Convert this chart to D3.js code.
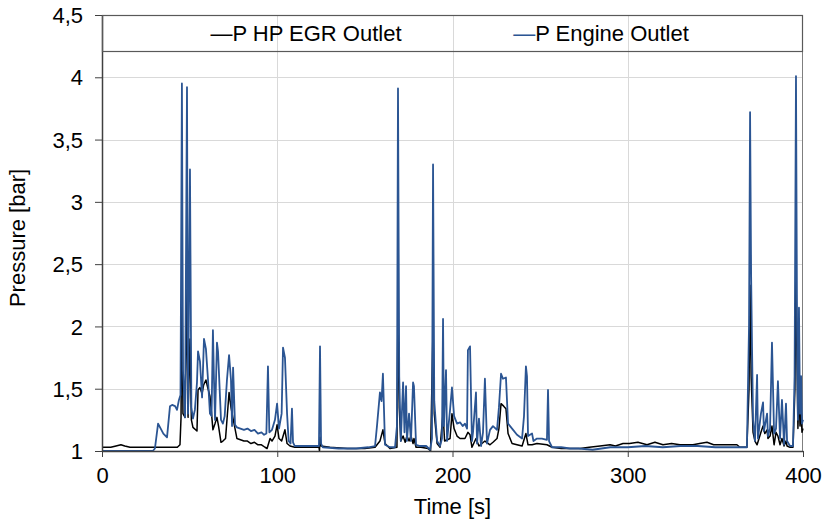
<!DOCTYPE html>
<html>
<head>
<meta charset="utf-8">
<script src="https://cdn.jsdelivr.net/npm/d3@7"></script>
<style>
  body { margin: 0; background: #fff; }
  svg { font-family: "Liberation Sans", Arial, sans-serif; }
</style>
</head>
<body>
<svg width="823" height="522"></svg>
<script>
let width = 823,
    height = 522;

let margin = {top: 15, right: 20, bottom: 71, left: 102};

// axis ticks
let xTicks = [0, 100, 200, 300, 400];
let yTicks = [1, 1.5, 2, 2.5, 3, 3.5, 4, 4.5];

let seriesNames = ["P HP EGR Outlet", "P Engine Outlet"];
let seriesColors = ["#000000", "#2b5593"];

// [time s, pressure bar]
let hpEgrOutlet = [
    [0, 1.03], [5, 1.03], [8, 1.04], [10.8, 1.05], [13, 1.04], [16, 1.03], [22, 1.03], [28, 1.03],
    [32, 1.03], [38, 1.03], [43, 1.03], [44.5, 1.05], [45.1, 1.27], [45.6, 2.45], [46.2, 1.30],
    [47.4, 1.27], [48.5, 2.30], [49.1, 1.27], [50.2, 1.90], [51, 1.25], [51.9, 1.19], [54.2, 1.16],
    [54.8, 1.49], [55.9, 1.51], [57.1, 1.46], [58, 1.53], [59.3, 1.57], [60.5, 1.50], [61.6, 1.44],
    [62.5, 1.30], [63.3, 1.17], [64.5, 1.22], [65.6, 1.27], [66.5, 1.20], [67.9, 1.07], [69, 1.08],
    [70.5, 1.10], [72.5, 1.47], [73.6, 1.35], [74.8, 1.26], [75.9, 1.18], [77, 1.10], [79, 1.09],
    [81, 1.08], [83, 1.08], [85, 1.06], [87, 1.07], [89, 1.05], [91, 1.05], [93, 1.03], [94.2, 1.02],
    [95.9, 1.10], [97, 1.08], [98.7, 1.12], [99.9, 1.21], [101, 1.10], [102.5, 1.08], [104.4, 1.17],
    [105.6, 1.06], [107.3, 1.04], [110, 1.03], [115, 1.03], [120, 1.03], [123.8, 1.03], [124.1, 1.00],
    [124.4, 1.11], [125, 1.04], [130, 1.03], [140, 1.02], [150, 1.02], [155.8, 1.03], [158.6, 1.08],
    [160.3, 1.17], [161.5, 1.06], [164.3, 1.02], [168.3, 1.03], [168.9, 2.20], [169.6, 1.35],
    [170.5, 1.08], [171.8, 1.12], [173, 1.07], [174, 1.12], [175.2, 1.08], [176.3, 1.12], [177.5, 1.06],
    [178, 1.10], [179.2, 1.03], [182, 1.03], [186, 1.02], [187.5, 1.00], [188.9, 2.00], [189.6, 1.30],
    [191.2, 1.06], [192.9, 1.03], [194.6, 1.30], [195.5, 1.08], [198.6, 1.10], [199.7, 1.30],
    [200.9, 1.18], [202.6, 1.12], [204.3, 1.10], [207.1, 1.10], [208.8, 1.15], [210, 1.13], [211.1, 1.03],
    [213.4, 1.10], [215.1, 1.04], [218.5, 1.08], [221.4, 1.05], [223.1, 1.07], [225.4, 1.10],
    [226.5, 1.18], [227.7, 1.38], [229.2, 1.36], [230.5, 1.34], [231.7, 1.14], [234, 1.06], [236.8, 1.05],
    [239.7, 1.04], [241.9, 1.14], [243.1, 1.05], [245.4, 1.05], [248.2, 1.06], [253.9, 1.05],
    [256.8, 1.03], [262, 1.02], [267, 1.02], [272.8, 1.02], [278, 1.03], [284.2, 1.04], [289.9, 1.05],
    [293, 1.04], [297.3, 1.06], [301, 1.06], [305.8, 1.07], [311, 1.05], [315.5, 1.07], [320.1, 1.05],
    [325, 1.06], [329.8, 1.05], [337.2, 1.05], [341, 1.06], [345.2, 1.07], [349, 1.05], [352.6, 1.05],
    [357, 1.05], [362.3, 1.05], [364, 1.03], [368, 1.03], [369.2, 1.50], [369.8, 2.33], [370.4, 1.60],
    [371.5, 1.15], [372.6, 1.08], [373.8, 1.05], [376, 1.15], [377.2, 1.20], [378.2, 1.14], [379.5, 1.17],
    [380, 1.10], [381.2, 1.12], [382.3, 1.20], [383.5, 1.05], [384.6, 1.15], [385.7, 1.12], [386.9, 1.05],
    [388, 1.10], [389.2, 1.04], [390.3, 1.08], [390.9, 1.04], [392.6, 1.03], [394.3, 1.03], [395.4, 1.50],
    [396, 2.45], [396.6, 1.70], [397.1, 1.18], [397.7, 1.50], [398.3, 1.20], [398.9, 1.35], [399.4, 1.15],
    [400, 1.18]
];

let engineOutlet = [
    [0, 1.00], [29, 1.00], [30.2, 1.02], [32, 1.22], [33.5, 1.18], [35, 1.14], [37.1, 1.11], [38.8, 1.36],
    [40, 1.37], [41.7, 1.36], [42.8, 1.33], [43.9, 1.41], [44.8, 1.45], [45.6, 3.95], [46.2, 1.65],
    [47.4, 1.27], [48.5, 3.92], [49.1, 1.30], [50.2, 3.26], [51, 1.35], [51.9, 1.26], [53, 1.33],
    [54.2, 1.55], [54.8, 1.80], [55.9, 1.72], [57.1, 1.43], [58.2, 1.90], [59.3, 1.82], [60.5, 1.57],
    [61.6, 1.30], [62.5, 1.28], [63.3, 1.97], [63.9, 1.57], [64.5, 1.25], [65.6, 1.87], [66.2, 1.80],
    [67.9, 1.25], [69, 1.22], [70, 1.28], [71.3, 1.57], [72.5, 1.77], [73.6, 1.57], [74.2, 1.20],
    [74.8, 1.67], [75.9, 1.21], [77, 1.19], [79, 1.18], [81, 1.17], [83, 1.18], [85, 1.16], [87, 1.17],
    [89, 1.14], [91, 1.15], [92.5, 1.13], [93.8, 1.14], [94.7, 1.68], [95.5, 1.15], [97, 1.17],
    [98.7, 1.25], [99.9, 1.38], [101, 1.18], [102.5, 1.30], [103.3, 1.83], [104.4, 1.75], [105.6, 1.30],
    [106.5, 1.08], [107.6, 1.06], [108.4, 1.34], [109, 1.07], [110, 1.04], [115, 1.04], [120, 1.04],
    [123.8, 1.04], [124.4, 1.84], [125, 1.06], [126, 1.03], [135, 1.02], [145, 1.02], [152, 1.03],
    [155.8, 1.04], [156.9, 1.20], [158.6, 1.47], [159.5, 1.40], [160.3, 1.62], [161.5, 1.05],
    [164.3, 1.03], [167.2, 1.03], [168.3, 1.20], [168.9, 3.91], [169.6, 1.60], [170.5, 1.08],
    [171.8, 1.55], [172.6, 1.15], [173.5, 1.52], [174, 1.08], [175.2, 1.30], [176.3, 1.08], [177.5, 1.55],
    [178, 1.52], [179.2, 1.05], [181.5, 1.04], [185, 1.04], [187.2, 1.01], [188.3, 1.10], [188.9, 3.30],
    [189.6, 1.40], [191.2, 1.08], [192.9, 1.04], [194, 1.10], [194.6, 2.06], [195.1, 1.20], [196.3, 1.65],
    [196.9, 1.08], [198.6, 1.33], [199.7, 1.51], [200.9, 1.28], [202.6, 1.22], [204.3, 1.23],
    [205.8, 1.20], [207.1, 1.22], [208.3, 1.18], [208.8, 1.81], [210, 1.84], [211.1, 1.08], [211.7, 1.15],
    [213.4, 1.47], [214, 1.06], [215.1, 1.26], [216.3, 1.04], [217.4, 1.15], [218.5, 1.58], [219.7, 1.06],
    [221.4, 1.17], [223.1, 1.20], [225.4, 1.17], [226.5, 1.35], [227.7, 1.62], [228.8, 1.58],
    [230.5, 1.59], [231.7, 1.22], [234, 1.18], [236.8, 1.13], [239.7, 1.10], [240.8, 1.28], [241.9, 1.68],
    [242.5, 1.60], [243.1, 1.12], [245.4, 1.14], [246.2, 1.08], [248.2, 1.10], [251, 1.10], [253.9, 1.09],
    [254.5, 1.49], [255.1, 1.08], [256.8, 1.03], [262, 1.03], [267, 1.02], [272, 1.02], [280, 1.01],
    [285, 1.02], [290, 1.03], [300, 1.03], [310, 1.04], [320, 1.03], [330, 1.04], [340, 1.04], [350, 1.03],
    [358, 1.03], [362, 1.03], [366, 1.03], [368, 1.03], [369.2, 2.00], [369.8, 3.72], [370.4, 2.40],
    [370.9, 1.84], [371.5, 1.25], [372.6, 1.08], [373.8, 1.61], [374.3, 1.10], [376, 1.30], [377.2, 1.39],
    [377.7, 1.16], [379.5, 1.30], [380, 1.12], [381.2, 1.18], [382.3, 1.87], [383.5, 1.14], [384.6, 1.18],
    [385.7, 1.56], [386.9, 1.10], [388, 1.41], [389.2, 1.05], [390.3, 1.38], [390.9, 1.08], [392.6, 1.04],
    [394.3, 1.04], [395.2, 1.60], [396, 4.01], [396.6, 2.00], [397.1, 1.25], [397.7, 2.15], [398.3, 1.30],
    [398.9, 1.60], [399.4, 1.22], [400, 1.25]
];

let svg = d3.select("svg");

let x = d3.scaleLinear()
    .domain([0, 400])
    .range([margin.left, width - margin.right]);

let y = d3.scaleLinear()
    .domain([1, 4.5])
    .range([height - margin.bottom, margin.top]);

let comma = d => String(d).replace(".", ",");

// grid
let grid = svg.append("g").attr("stroke", "#d9d9d9").attr("stroke-width", 1);

grid.selectAll(".h")
    .data(yTicks.slice(1))
    .enter().append("line")
    .attr("x1", x(0)).attr("x2", x(400))
    .attr("y1", d => Math.round(y(d)) + 0.5)
    .attr("y2", d => Math.round(y(d)) + 0.5);

grid.selectAll(".v")
    .data(xTicks.slice(1, -1))
    .enter().append("line")
    .attr("y1", y(1)).attr("y2", y(4.5))
    .attr("x1", d => Math.round(x(d)) + 0.5)
    .attr("x2", d => Math.round(x(d)) + 0.5);

// right border
svg.append("line")
    .attr("x1", x(400) - 0.5).attr("x2", x(400) - 0.5)
    .attr("y1", y(4.5)).attr("y2", y(1))
    .attr("stroke", "#7f7f7f");

// series
let line = d3.line()
    .x(d => x(d[0]))
    .y(d => y(d[1]));

let plot = svg.append("g");

[hpEgrOutlet, engineOutlet].forEach((s, i) => {
    plot.append("path")
        .datum(s)
        .attr("fill", "none")
        .attr("stroke", seriesColors[i])
        .attr("stroke-width", i === 0 ? 1.5 : 1.8)
        .attr("stroke-linejoin", "round")
        .attr("d", line);
});

// axes
let xAxis = svg.append("g")
    .attr("transform", `translate(0,${y(1)})`)
    .call(d3.axisBottom(x).tickValues(xTicks).tickSize(6).tickSizeOuter(0).tickPadding(10));

let yAxis = svg.append("g")
    .attr("transform", `translate(${x(0)},0)`)
    .call(d3.axisLeft(y).tickValues(yTicks).tickFormat(comma).tickSize(7).tickSizeOuter(0).tickPadding(12));

[xAxis, yAxis].forEach(a => {
    a.select(".domain").attr("stroke", "#404040").attr("stroke-width", 1.5);
    a.selectAll(".tick line").attr("stroke", "#404040");
    a.selectAll(".tick text")
        .attr("fill", "#000")
        .style("font-size", "22px")
        .style("font-family", "'Liberation Sans', Arial, sans-serif");
});

yAxis.selectAll(".tick text").attr("dy", "0.35em");

// axis titles
svg.append("text")
    .attr("x", (x(0) + x(400)) / 2)
    .attr("y", 514)
    .attr("text-anchor", "middle")
    .style("font-size", "22px")
    .text("Time [s]");

svg.append("text")
    .attr("transform", `translate(25,${(y(1) + y(4.5)) / 2 + 5}) rotate(-90)`)
    .attr("text-anchor", "middle")
    .style("font-size", "22px")
    .text("Pressure [bar]");

// legend
svg.append("rect")
    .attr("x", x(0) + 0.5)
    .attr("y", margin.top + 0.5)
    .attr("width", x(400) - x(0) - 1)
    .attr("height", 36)
    .attr("fill", "none")
    .attr("stroke", "#595959")
    .attr("stroke-width", 1.2);

let legendX = [306, 601];

let legend = svg.append("g")
    .selectAll("text")
    .data(seriesNames)
    .enter().append("text")
    .attr("x", (d, i) => legendX[i])
    .attr("y", 41)
    .attr("text-anchor", "middle")
    .style("font-size", "22px");

legend.append("tspan")
    .attr("fill", (d, i) => seriesColors[i])
    .text("\u2014");

legend.append("tspan")
    .attr("fill", "#000")
    .text(d => d);
</script>
</body>
</html>
